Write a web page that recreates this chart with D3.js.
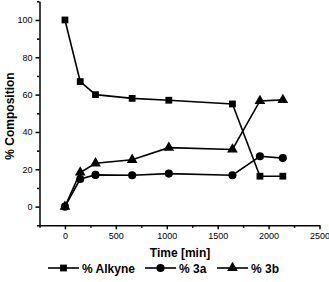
<!DOCTYPE html>
<html>
<head>
<meta charset="utf-8">
<script src="https://cdn.jsdelivr.net/npm/d3@7"></script>
<style>
  body { margin: 0; background: #fff; }
  svg { font-family: "Liberation Sans", Arial, sans-serif; }
  .axis path, .axis line { stroke: #000; stroke-width: 1.5; }
  .axis text { font-size: 9px; fill: #000; }
  .title { font-size: 12px; font-weight: bold; }
</style>
</head>
<body>
<div id="chart"></div>
<script>
var svgWidth = 329;
var svgHeight = 282;

// data
var times = [0, 150, 300, 660, 1020, 1645, 1915, 2140];
var alkyne = [100, 67, 60, 58, 57, 55, 16.3, 16.3];
var comp3a = [0, 14.8, 17, 16.8, 17.7, 16.8, 27, 26];
var comp3b = [0, 18.3, 23.2, 25.1, 31.6, 30.6, 56.6, 57.2];
var seriesNames = ["% Alkyne", "% 3a", "% 3b"];
var xTicks = [0, 500, 1000, 1500, 2000, 2500];
var yTicks = [0, 20, 40, 60, 80, 100];

var svg = d3.select("#chart")
  .append("svg")
  .attr("width", svgWidth)
  .attr("height", svgHeight);

var x = d3.scaleLinear().domain([-250, 2500]).range([39.5, 319.5]);
var y = d3.scaleLinear().domain([-10, 110]).range([225.3, 1.3]);

// minor ticks first
svg.append("g")
  .attr("class", "axis")
  .attr("transform", `translate(0, ${y(-10)})`)
  .call(d3.axisBottom(x).tickValues(d3.range(-250, 2500, 500)).tickSize(2.5).tickFormat(""))
  .select(".domain").remove();

svg.append("g")
  .attr("class", "axis")
  .attr("transform", `translate(${x(-250)}, 0)`)
  .call(d3.axisLeft(y).tickValues(d3.range(-10, 111, 20)).tickSize(2.5).tickFormat(""))
  .select(".domain").remove();

// major axes
svg.append("g")
  .attr("class", "axis")
  .attr("transform", `translate(0, ${y(-10)})`)
  .call(d3.axisBottom(x).tickValues(xTicks).tickFormat(d3.format("d")).tickSize(4).tickSizeOuter(0).tickPadding(3));

svg.append("g")
  .attr("class", "axis")
  .attr("transform", `translate(${x(-250)}, 0)`)
  .call(d3.axisLeft(y).tickValues(yTicks).tickFormat(d3.format("d")).tickSize(4).tickSizeOuter(0).tickPadding(3));

var series = [alkyne, comp3a, comp3b];
var symbols = [d3.symbolSquare, d3.symbolCircle, d3.symbolTriangle];
var symSizes = [46, 52, 50];

var line = d3.line()
  .x((d, i) => x(times[i]))
  .y(d => y(d));

series.forEach(function(vals, s) {
  svg.append("path")
    .datum(vals)
    .attr("fill", "none")
    .attr("stroke", "#000")
    .attr("stroke-width", 1.6)
    .attr("d", line);

  svg.selectAll(null)
    .data(vals)
    .enter()
    .append("path")
    .attr("transform", (d, i) => `translate(${x(times[i])}, ${y(d)})`)
    .attr("d", d3.symbol().type(symbols[s]).size(symSizes[s]))
    .attr("fill", "#000");
});

// axis titles
svg.append("text")
  .attr("class", "title")
  .attr("text-anchor", "middle")
  .attr("transform", "translate(14, 116) rotate(-90)")
  .text("% Composition");

svg.append("text")
  .attr("class", "title")
  .attr("text-anchor", "middle")
  .attr("x", 180)
  .attr("y", 257)
  .text("Time [min]");

// legend
var legendX = [48, 145, 217];
var legend = svg.selectAll(".legend")
  .data(seriesNames)
  .enter()
  .append("g")
  .attr("transform", (d, i) => `translate(${legendX[i]}, 268)`);

legend.append("line")
  .attr("x1", 0).attr("x2", 31)
  .attr("y1", 0).attr("y2", 0)
  .attr("stroke", "#000")
  .attr("stroke-width", 1.6);

legend.append("path")
  .attr("transform", "translate(15.5, 0)")
  .attr("d", (d, i) => d3.symbol().type(symbols[i]).size(symSizes[i])())
  .attr("fill", "#000");

legend.append("text")
  .attr("class", "title")
  .attr("x", 34)
  .attr("y", 4.5)
  .text(d => d);
</script>
</body>
</html>
